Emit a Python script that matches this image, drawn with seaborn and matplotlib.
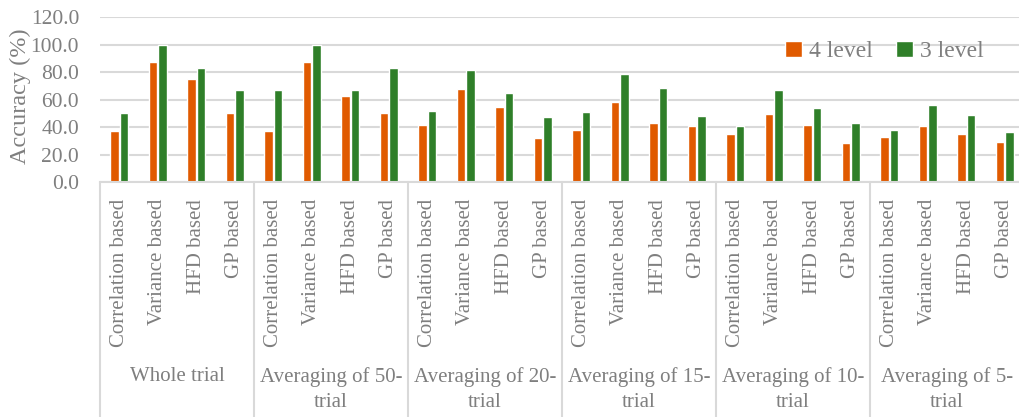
import matplotlib
matplotlib.use("Agg")
import matplotlib.pyplot as plt
import seaborn as sns
import pandas as pd
import numpy as np

# Feature extraction methods and averaging schemes
methods = ["Correlation based", "Variance based", "HFD based", "GP based"]
groups = ["Whole trial", "Averaging of 50-\ntrial", "Averaging of 20-\ntrial",
          "Averaging of 15-\ntrial", "Averaging of 10-\ntrial", "Averaging of 5-\ntrial"]

# Classification accuracy (%) per group, in method order
acc_4level = [
    [37.5, 87.5, 75.0, 50.0],
    [37.5, 87.5, 62.5, 50.0],
    [41.5, 67.4, 54.3, 32.0],
    [38.0, 58.4, 43.1, 40.7],
    [35.2, 49.5, 41.5, 28.6],
    [32.7, 40.9, 34.9, 29.1],
]
acc_3level = [
    [50.0, 100.0, 83.3, 66.7],
    [66.7, 100.0, 66.7, 83.3],
    [51.6, 81.9, 64.7, 47.3],
    [51.2, 78.8, 68.4, 47.8],
    [40.7, 66.9, 53.8, 42.9],
    [37.6, 55.8, 48.7, 36.4],
]
series_names = ["4 level", "3 level"]
colors = ["#E05A00", "#2F7F29"]

rows = []
for gi, g in enumerate(groups):
    for mi, m in enumerate(methods):
        key = f"{gi}|{m}"
        rows.append({"key": key, "method": m, "group": g, "series": series_names[0], "acc": acc_4level[gi][mi]})
        rows.append({"key": key, "method": m, "group": g, "series": series_names[1], "acc": acc_3level[gi][mi]})
df = pd.DataFrame(rows)
order = list(dict.fromkeys(df["key"]))

sns.set_style("white")
plt.rcParams["font.family"] = ["Liberation Serif", "DejaVu Serif"]
text_color = "#7F7F7F"
grid_color = "#D9D9D9"

fig = plt.figure(figsize=(10.19, 4.17), dpi=100)
W, H = 1019, 417
left, right = 100, 1024
y0, y120 = 182, 17.3
ax = fig.add_axes([left / W, (H - y0) / H, (right - left) / W, (y0 - y120) / H])

sns.barplot(data=df, x="key", y="acc", hue="series", order=order,
            hue_order=series_names, palette=colors, width=0.5, gap=0.12,
            ax=ax, errorbar=None, saturation=1, legend=True)

ax.set_ylim(0, 120)
ax.set_yticks(np.arange(0, 121, 20))
ax.set_yticklabels([f"{v:.1f}" for v in np.arange(0, 121, 20)])
ax.set_xlim(-0.5, len(order) - 0.5)
ax.yaxis.grid(True, color=grid_color, linewidth=1.5)
ax.set_axisbelow(True)
for s in ["top", "right", "left"]:
    ax.spines[s].set_visible(False)
ax.spines["bottom"].set_color(grid_color)
ax.spines["bottom"].set_linewidth(1.5)

ax.tick_params(axis="y", length=0, pad=15, labelsize=15.5, labelcolor=text_color)
ax.tick_params(axis="x", length=0, pad=12, labelsize=15, labelcolor=text_color)
ax.set_xticks(range(len(order)))
ax.set_xticklabels([k.split("|")[1] for k in order], rotation=90, va="top", ha="center")

ax.set_xlabel("")
ax.set_ylabel("")
fig.text(20 / W, (H - 96) / H, "Accuracy (%)", rotation=90, ha="center", va="center",
         fontsize=17.5, color=text_color)

# Multi-level category axis: separators and group labels
bottom_ax = -(H - y0) / (y0 - y120)
trans = ax.get_xaxis_transform()
n_m = len(methods)
for gi in range(len(groups) + 1):
    xs = gi * n_m - 0.5
    ax.plot([xs, xs], [0, bottom_ax], transform=trans, color=grid_color,
            linewidth=1.5, clip_on=False)
label_y = -(367 - y0) / (y0 - y120)
for gi, g in enumerate(groups):
    ax.text(gi * n_m + (n_m - 1) / 2, label_y, g, transform=trans, ha="center",
            va="top", fontsize=15, color=text_color, linespacing=1.4)

leg = ax.legend(loc="upper right", bbox_to_anchor=(1000 / W, (H - 24) / H),
                bbox_transform=fig.transFigure, frameon=False, ncol=2,
                fontsize=17, labelcolor=text_color, handlelength=0.7,
                handleheight=0.7, handletextpad=0.3, columnspacing=1.0,
                borderpad=0.2)

fig.savefig("out.png", dpi=100)
